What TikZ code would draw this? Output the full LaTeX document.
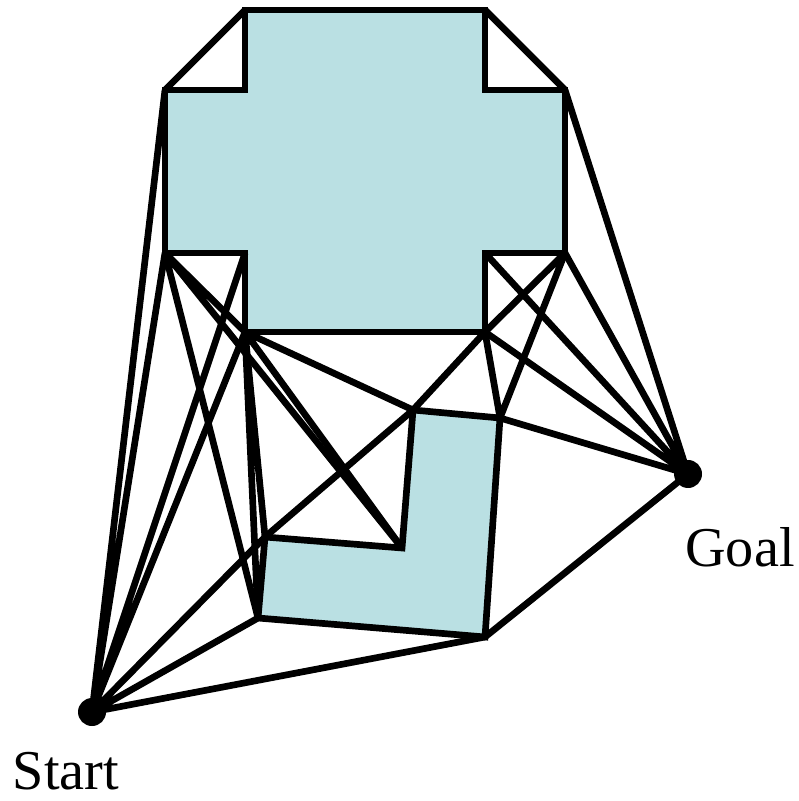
\documentclass[tikz,border=0pt]{standalone}
\usepackage{fontspec}
\setmainfont{Liberation Serif}
\usepackage{tikz}
\usetikzlibrary{positioning}

\definecolor{obstacle}{RGB}{186,224,227}

\begin{document}
\begin{tikzpicture}[line width=1.9pt, line join=miter,
    dot/.style={circle,fill,inner sep=0pt,minimum size=0.28cm},
    lbl/.style={font=\fontsize{16}{19}\selectfont}]
    \useasboundingbox (0,0) rectangle (7.98,-8.01);  % Fixes the picture size

    % corners of the cross
    \coordinate (c1) at (2.45,-0.10);
    \coordinate (c2) at (4.85,-0.10);
    \coordinate (c3) at (4.85,-0.90);
    \coordinate (c4) at (5.65,-0.90);
    \coordinate (c5) at (5.65,-2.53);
    \coordinate (c6) at (4.85,-2.53);
    \coordinate (c7) at (4.85,-3.32);
    \coordinate (c8) at (2.45,-3.32);
    \coordinate (c9) at (2.45,-2.53);
    \coordinate (c10) at (1.65,-2.53);
    \coordinate (c11) at (1.65,-0.90);
    \coordinate (c12) at (2.45,-0.90);

    % corners of the L
    \coordinate (l1) at (4.13,-4.10);
    \coordinate (l2) at (5.00,-4.18);
    \coordinate (l3) at (4.85,-6.37);
    \coordinate (l4) at (2.58,-6.18);
    \coordinate (l5) at (2.65,-5.37);
    \coordinate (l6) at (4.02,-5.48);

    \draw[fill=obstacle] (c1) -- (c2) -- (c3) -- (c4) -- (c5) -- (c6) -- (c7) -- (c8)
        -- (c9) -- (c10) -- (c11) -- (c12) -- cycle;  % Draws the cross
    \draw[fill=obstacle] (l1) -- (l2) -- (l3) -- (l4) -- (l5) -- (l6) -- cycle;  % Draws the L

    \node[dot] (start) at (0.92,-7.12) {};  % Start point
    \node[dot] (goal) at (6.88,-4.74) {};  % Goal point
    \node[lbl] (startlabel) at (0.66,-7.71) {Start};
    \node[lbl] (goallabel) at (7.40,-5.47) {Goal};

    % edges round the top
    \draw (c1) -- (c11)  (c2) -- (c4);
    % edges from the start
    \draw (start.center) -- (c11)  (start.center) -- (c10)  (start.center) -- (c9)
          (start.center) -- (c8)  (start.center) -- (l5)  (start.center) -- (l4)
          (start.center) -- (l3);
    % edges into the goal
    \draw (goal.center) -- (c4)  (goal.center) -- (c5)  (goal.center) -- (c6)
          (goal.center) -- (c7)  (goal.center) -- (l2)  (goal.center) -- (l3);
    % edges between the two obstacles
    \draw (c10) -- (c8)  (c10) -- (l6)  (c10) -- (l4);
    \draw (c8) -- (l6)  (c8) -- (l5)  (c8) -- (l4)  (c8) -- (l1);
    \draw (c7) -- (l1)  (c7) -- (l2)  (c5) -- (c7)  (c5) -- (l2);
    \draw (l5) -- (l1);
\end{tikzpicture}
\end{document}
